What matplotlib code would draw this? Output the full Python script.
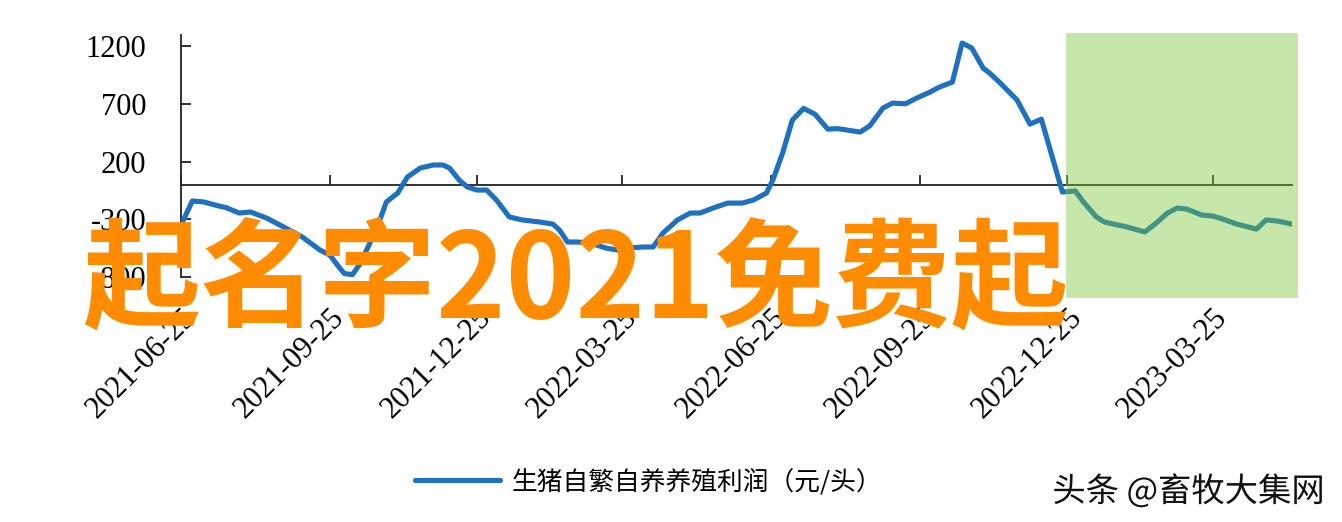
import pandas as pd
import matplotlib
matplotlib.use("Agg")
import matplotlib.pyplot as plt
import matplotlib.dates as mdates
import matplotlib.patheffects as pe
from matplotlib.patches import Rectangle

# weekly-ish profit series
DATES = [
    "2021-06-25", "2021-07-02", "2021-07-09", "2021-07-17", "2021-07-23", "2021-07-31",
    "2021-08-07", "2021-08-17", "2021-08-31", "2021-09-08", "2021-09-19", "2021-09-25",
    "2021-10-01", "2021-10-04", "2021-10-09", "2021-10-14", "2021-10-20", "2021-10-26",
    "2021-10-30", "2021-11-06", "2021-11-12", "2021-11-20", "2021-11-28", "2021-12-04",
    "2021-12-08", "2021-12-14", "2021-12-19", "2021-12-25", "2021-12-31", "2022-01-06",
    "2022-01-14", "2022-01-22", "2022-02-02", "2022-02-10", "2022-02-14", "2022-02-19",
    "2022-02-25", "2022-03-05", "2022-03-15", "2022-03-22", "2022-03-28", "2022-04-07",
    "2022-04-13", "2022-04-19", "2022-04-28", "2022-05-06", "2022-05-12", "2022-05-20",
    "2022-05-29", "2022-06-07", "2022-06-14", "2022-06-22", "2022-06-26", "2022-07-02",
    "2022-07-08", "2022-07-15", "2022-07-22", "2022-07-30", "2022-08-05", "2022-08-19",
    "2022-08-25", "2022-09-02", "2022-09-08", "2022-09-16", "2022-09-23", "2022-10-01",
    "2022-10-07", "2022-10-15", "2022-10-21", "2022-10-27", "2022-11-03", "2022-11-07",
    "2022-11-13", "2022-11-24", "2022-12-02", "2022-12-09", "2022-12-14", "2022-12-22",
    "2022-12-30", "2023-01-04", "2023-01-12", "2023-01-17", "2023-01-31", "2023-02-11",
    "2023-02-18", "2023-02-25", "2023-03-03", "2023-03-09", "2023-03-18", "2023-03-25",
    "2023-03-31", "2023-04-09", "2023-04-21", "2023-04-27", "2023-05-04", "2023-05-13",
]
PROFIT = [
    -350, -142, -150, -180, -200, -246,
    -237, -290, -393, -454, -567, -610,
    -720, -770, -780, -680, -500, -305,
    -150, -73, 66, 144, 170, 170,
    144, 40, -20, -47, -47, -133,
    -280, -306, -324, -342, -393, -497,
    -497, -506, -550, -567, -550, -540,
    -540, -420, -306, -246, -246, -203,
    -160, -160, -133, -73, 40, 273,
    558, 660, 610, 480, 485, 455,
    510, 662, 706, 700, 750, 800,
    845, 888, 1226, 1183, 1009, 966,
    888, 732, 524, 567, 325, -64,
    -55, -150, -280, -324, -367, -410,
    -333, -246, -203, -212, -263, -272,
    -298, -342, -385, -306, -315, -342,
]

TICK_DATES = ["2021-06-25", "2021-09-25", "2021-12-25", "2022-03-25",
              "2022-06-25", "2022-09-25", "2022-12-25", "2023-03-25"]
Y_TICKS = [-800, -300, 200, 700, 1200]

X_START, X_END = "2021-06-25", "2023-05-13"
SHADE_START, SHADE_END = "2022-12-24", "2023-05-16"
SHADE_LOW, SHADE_HIGH = -975, 1310

LEGEND_LABEL = "生猪自繁自养养殖利润（元/头）"
BANNER = "起名字2021免费起"
WATERMARK = "头条 @畜牧大集网"

LINE_COLOR = "#1f70bf"
SERIF = ["Liberation Serif", "DejaVu Serif"]
CJK = ["Noto Sans CJK SC", "DejaVu Sans"]


def main():
    dates = pd.to_datetime(DATES)

    fig = plt.figure(figsize=(13.42, 5.22), dpi=100)
    fig.patch.set_facecolor("white")
    ax = fig.add_axes([181 / 1342, 1 - 277 / 522, 1111 / 1342, 242.5 / 522])

    line, = ax.plot(dates, PROFIT, color=LINE_COLOR, lw=3.7, solid_capstyle="round",
                    solid_joinstyle="round", label=LEGEND_LABEL, zorder=3)

    ax.set_xlim(pd.Timestamp(X_START), pd.Timestamp(X_END))
    ax.set_ylim(-800, 1300)

    # axis look: left spine + zero line as x axis
    ax.spines["top"].set_visible(False)
    ax.spines["right"].set_visible(False)
    ax.spines["bottom"].set_position(("data", 0))
    for s in ("left", "bottom"):
        ax.spines[s].set_color("#222222")
        ax.spines[s].set_linewidth(1.3)

    ax.set_xticks(pd.to_datetime(TICK_DATES))
    ax.set_xticklabels(TICK_DATES, fontsize=22, family=SERIF)
    ax.set_yticks(Y_TICKS)
    ax.set_yticklabels([str(v) for v in Y_TICKS], fontsize=22, family=SERIF)
    ax.tick_params(axis="x", direction="in", length=7, width=1.3, pad=85, colors="#222222",
                   labelcolor="black")
    ax.tick_params(axis="y", direction="in", length=7, width=1.3, pad=25, colors="#222222",
                   labelcolor="black")
    plt.setp(ax.get_xticklabels(), rotation=45, ha="right", rotation_mode="anchor")

    # green highlight box over the latest period
    x0 = mdates.date2num(pd.Timestamp(SHADE_START))
    x1 = mdates.date2num(pd.Timestamp(SHADE_END))
    ax.add_patch(Rectangle((x0, SHADE_LOW), x1 - x0, SHADE_HIGH - SHADE_LOW,
                           facecolor="#78c832", edgecolor="#a8d888", lw=0.8,
                           alpha=0.42, clip_on=False, zorder=5))

    # legend under the chart
    fig.legend(handles=[line], labels=[LEGEND_LABEL], loc="center left",
               bbox_to_anchor=(415 / 1342, 1 - 482 / 522), frameon=False,
               handlelength=3.3, handletextpad=0.45, borderpad=0, borderaxespad=0,
               prop={"family": CJK, "size": 18.5})

    # big orange overlay text
    fig.text(82 / 1342, 1 - 283 / 522, BANNER, color="#ff8c00", fontsize=85,
             fontweight="bold", family=CJK, ha="left", va="center", zorder=10)

    # watermark
    fig.text(1325 / 1342, 1 - 492 / 522, WATERMARK, color="#111111", fontsize=24,
             family=CJK, ha="right", va="center", zorder=10,
             path_effects=[pe.withStroke(linewidth=3, foreground="white")])

    fig.savefig("out.png", dpi=100, facecolor="white")


if __name__ == "__main__":
    main()
